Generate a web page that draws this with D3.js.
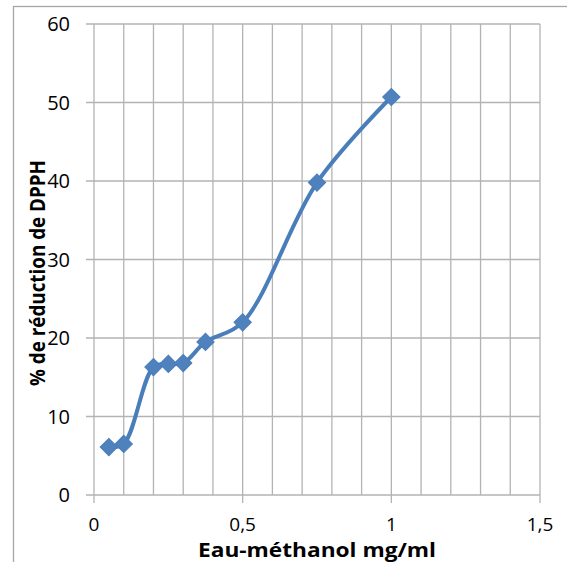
<!DOCTYPE html>
<html>
<head>
<meta charset="utf-8">
<script src="https://cdn.jsdelivr.net/npm/d3@7"></script>
<style>
  html, body { margin: 0; padding: 0; background: #fff; }
  svg { display: block; }
</style>
</head>
<body>
<div id="chart"></div>
<script>
// concentrations (mg/ml) and % reduction of DPPH
const concentrations = [0.05, 0.1, 0.2, 0.25, 0.3, 0.375, 0.5, 0.75, 1];
const reduction = [6.1, 6.5, 16.3, 16.7, 16.8, 19.5, 22.0, 39.8, 50.7];
const yTicks = [0, 10, 20, 30, 40, 50, 60];
const xTicks = [0, 0.5, 1, 1.5];
const xGrid = d3.range(0, 16).map(i => i / 10);

const width = 567;
const height = 562;
const margin = { left: 94, top: 24, right: 27, bottom: 67 };

const svg = d3.select("#chart")
  .append("svg")
  .attr("width", width)
  .attr("height", height);

// chart frame
svg.append("rect")
  .attr("x", 13.5)
  .attr("y", 6.5)
  .attr("width", 700)
  .attr("height", 700)
  .attr("fill", "none")
  .attr("stroke", "#a6a6a6")
  .attr("stroke-width", 1.3);

const x = d3.scaleLinear()
  .domain([0, 1.5])
  .range([margin.left, width - margin.right]);

const y = d3.scaleLinear()
  .domain([0, 60])
  .range([height - margin.bottom, margin.top]);

const gridColor = "#b3b3b3";

// vertical grid every 0.1
svg.append("g")
  .selectAll("line")
  .data(xGrid.slice(1))
  .join("line")
  .attr("x1", d => x(d))
  .attr("x2", d => x(d))
  .attr("y1", y(60))
  .attr("y2", y(0))
  .attr("stroke", gridColor)
  .attr("stroke-width", 1.3);

// horizontal grid every 10 (with tick stub to the left)
svg.append("g")
  .selectAll("line")
  .data(yTicks)
  .join("line")
  .attr("x1", x(0) - 8)
  .attr("x2", x(1.5))
  .attr("y1", d => y(d))
  .attr("y2", d => y(d))
  .attr("stroke", gridColor)
  .attr("stroke-width", 1.3);

// y axis line
svg.append("line")
  .attr("x1", x(0)).attr("x2", x(0))
  .attr("y1", y(60)).attr("y2", y(0))
  .attr("stroke", gridColor)
  .attr("stroke-width", 1.3);

// x major ticks
svg.append("g")
  .selectAll("line")
  .data(xTicks)
  .join("line")
  .attr("x1", d => x(d))
  .attr("x2", d => x(d))
  .attr("y1", y(0))
  .attr("y2", y(0) + 8)
  .attr("stroke", gridColor)
  .attr("stroke-width", 1.3);

const tickFont = "'Open Sans', 'Noto Sans', sans-serif";

// y tick labels
svg.append("g")
  .selectAll("text")
  .data(yTicks)
  .join("text")
  .attr("x", 70)
  .attr("y", d => y(d))
  .attr("dy", "0.36em")
  .attr("text-anchor", "end")
  .attr("font-family", tickFont)
  .attr("font-size", 20)
  .attr("fill", "#000")
  .text(d => d);

// x tick labels
svg.append("g")
  .selectAll("text")
  .data(xTicks)
  .join("text")
  .attr("x", d => x(d))
  .attr("y", 531)
  .attr("text-anchor", "middle")
  .attr("font-family", tickFont)
  .attr("font-size", 19)
  .attr("fill", "#000")
  .text(d => String(d).replace(".", ","));

// axis titles
svg.append("text")
  .attr("x", 317)
  .attr("y", 557)
  .attr("text-anchor", "middle")
  .attr("font-family", tickFont)
  .attr("font-weight", "bold")
  .attr("font-size", 19)
  .attr("textLength", 238)
  .attr("lengthAdjust", "spacingAndGlyphs")
  .text("Eau-méthanol mg/ml");

svg.append("text")
  .attr("transform", "translate(45,273) rotate(-90)")
  .attr("text-anchor", "middle")
  .attr("font-family", tickFont)
  .attr("font-weight", "bold")
  .attr("font-size", 21)
  .attr("textLength", 226)
  .attr("lengthAdjust", "spacingAndGlyphs")
  .text("% de réduction de DPPH");

// series
const points = concentrations.map((c, i) => [c, reduction[i]]);
const blue = "#4a7ebb";

const line = d3.line()
  .x(d => x(d[0]))
  .y(d => y(d[1]))
  .curve(d3.curveCatmullRom.alpha(0.5));

svg.append("path")
  .datum(points)
  .attr("d", line)
  .attr("fill", "none")
  .attr("stroke", blue)
  .attr("stroke-width", 4)
  .attr("stroke-linejoin", "round");

svg.append("g")
  .selectAll("path")
  .data(points)
  .join("path")
  .attr("d", d3.symbol().type(d3.symbolSquare).size(150))
  .attr("transform", d => `translate(${x(d[0])},${y(d[1])}) rotate(45)`)
  .attr("fill", "#4f81bd")
  .attr("stroke", blue)
  .attr("stroke-width", 1);
</script>
</body>
</html>
